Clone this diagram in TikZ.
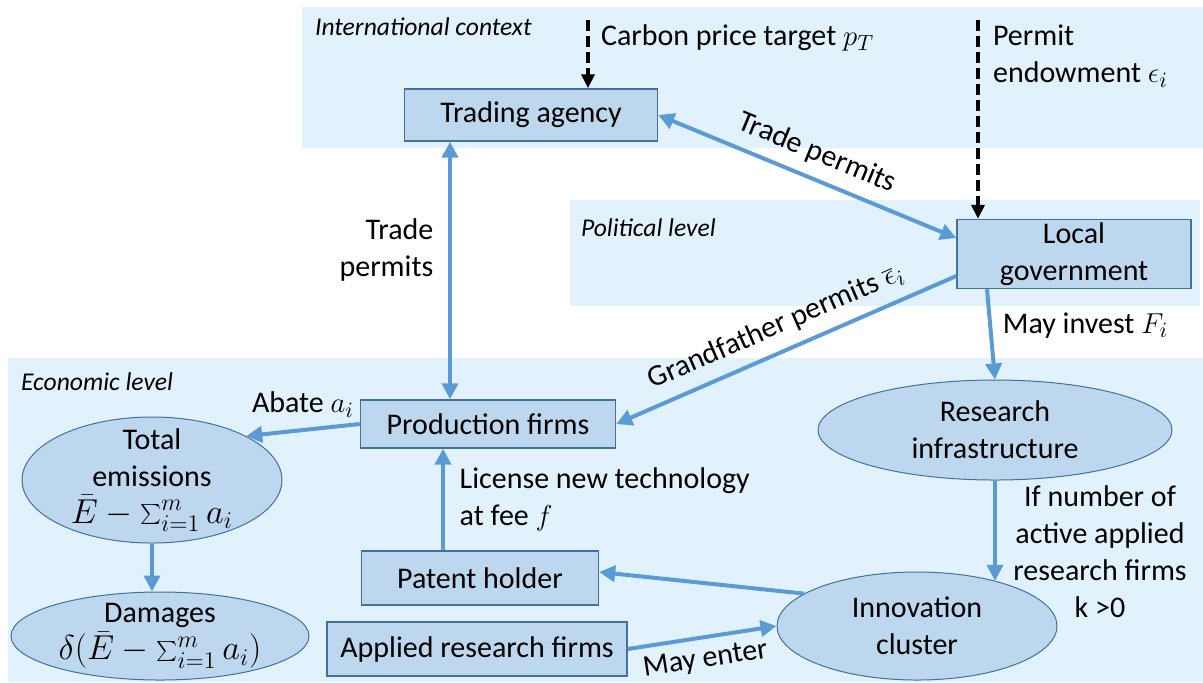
\documentclass[tikz,border=0pt]{standalone}
\usepackage{fontspec}
\setmainfont{Carlito}
\usetikzlibrary{arrows.meta}
\usetikzlibrary{shapes.geometric}

\definecolor{layerfill}{RGB}{226,242,253}
\definecolor{boxfill}{RGB}{189,215,238}
\definecolor{boxline}{RGB}{65,113,156}
\definecolor{flowblue}{RGB}{91,155,213}

\newcommand{\bigmath}[1]{{\fontsize{17}{18.5}\selectfont$#1$}}

\begin{document}
\begin{tikzpicture}[
      x=0.5pt, y=-0.5pt,
      font=\fontsize{15}{18.5}\selectfont,
      >={Triangle[length=8pt,width=8pt]},
      layer/.style={fill=layerfill},
      layer_name/.style={anchor=west,font=\fontsize{12.8}{15}\selectfont\itshape},
      agent/.style={draw=boxline,fill=boxfill,line width=0.7pt,align=center,inner sep=0pt},
      pool/.style={ellipse,draw=boxline,fill=boxfill,line width=0.5pt,align=center,
        inner xsep=0pt,inner ysep=-10pt},
      trans/.style={draw=flowblue,line width=2pt,->},
      trans_both/.style={trans,<->},
      exo/.style={black,line width=2pt,dash pattern=on 5.5pt off 2.5pt,
        -{Triangle[length=7pt,width=6.5pt]}},
    ]
    \useasboundingbox (0,0) rectangle (1203,682);
    % Draw the three levels.
    \fill[layer] (302,7) rectangle (1203,148);
    \fill[layer] (570,200) rectangle (1200,306);
    \fill[layer] (8,358) rectangle (1203,682);
    \node[layer_name] (intl) at (308,27) {International context};
    \node[layer_name] (pol) at (574,228) {Political level};
    \node[layer_name] (econ) at (14,382) {Economic level};

    % Draw the agents.
    \node[agent,minimum width=126.5pt,minimum height=26pt] (agency) at (531,115) {Trading agency};
    \node[agent,minimum width=117pt,minimum height=34.5pt] (govt) at (1074,254) {Local\\government};
    \node[agent,minimum width=127.5pt,minimum height=24pt] (prod) at (488,424) {Production firms};
    \node[agent,minimum width=118.5pt,minimum height=27pt] (patent) at (480,578) {Patent holder};
    \node[agent,minimum width=150pt,minimum height=27pt] (applied) at (477,649) {Applied research firms};
    \node[pool,minimum width=177pt,minimum height=50pt] (infra) at (995,430) {Research\\infrastructure};
    \node[pool,minimum width=140pt,minimum height=54pt] (cluster) at (917,626) {Innovation\\cluster};
    \node[pool,minimum width=130pt,minimum height=63pt] (emis) at (152,480)
        {Total\\emissions\\\bigmath{\bar{E}-\sum_{i=1}^{m}a_i}};
    \node[pool,minimum width=149pt,minimum height=44pt] (dmg) at (160,636)
        {Damages\\\bigmath{\delta(\bar{E}-\sum_{i=1}^{m}a_i)}};

    % Exogenous inputs.
    \coordinate (pT) at (588,20);
    \draw[exo] (pT) -- (pT |- agency.north);
    \node[anchor=west] (pT_label) at (594,38) {Carbon price target $p_T$};
    \coordinate (eps) at (978,20);
    \draw[exo] (eps) -- (eps |- govt.north);
    \node[anchor=north west,align=left] (eps_label) at (986,18) {Permit\\endowment $\epsilon_i$};

    % Draw the flows.
    \draw[trans_both] (agency.east) -- ([yshift=8pt]govt.west)
        node[midway,sloped,above=2pt] {Trade permits};
    \draw[trans_both] ([xshift=-40.5pt]agency.south) -- ([xshift=-19pt]prod.north)
        node[pos=0.42,left=4pt,align=right] {Trade\\permits};
    \draw[trans,<-] (prod.east) -- ([yshift=-11pt]govt.west)
        node[midway,sloped,above=2pt] {Grandfather permits $\overline{\epsilon}_i$};
    \draw[trans] ([xshift=-43.5pt]govt.south) -- (infra.north)
        node[pos=0.4,right=2pt] {May invest $F_i$};
    \draw[trans] (infra.south) -- (infra.south |- cluster.30);
    \node[align=center] (cond) at (1100,552) {If number of\\active applied\\research firms\\k >0};
    \draw[trans] (cluster.164) -- ([yshift=3pt]patent.east);
    \draw[trans] ([xshift=-18.5pt]patent.north) coordinate (lic) -- (lic |- prod.south)
        node[midway,right=4pt,align=left] {License new technology\\at fee $f$};
    \draw[trans] (applied.east) -- (cluster.west)
        node[midway,sloped,below=1pt] {May enter};
    \draw[trans] (prod.west) -- (emis.25)
        node[midway,above=2pt] {Abate $a_i$};
    \draw[trans] (emis.south) -- (emis.south |- dmg.north);
\end{tikzpicture}
\end{document}
